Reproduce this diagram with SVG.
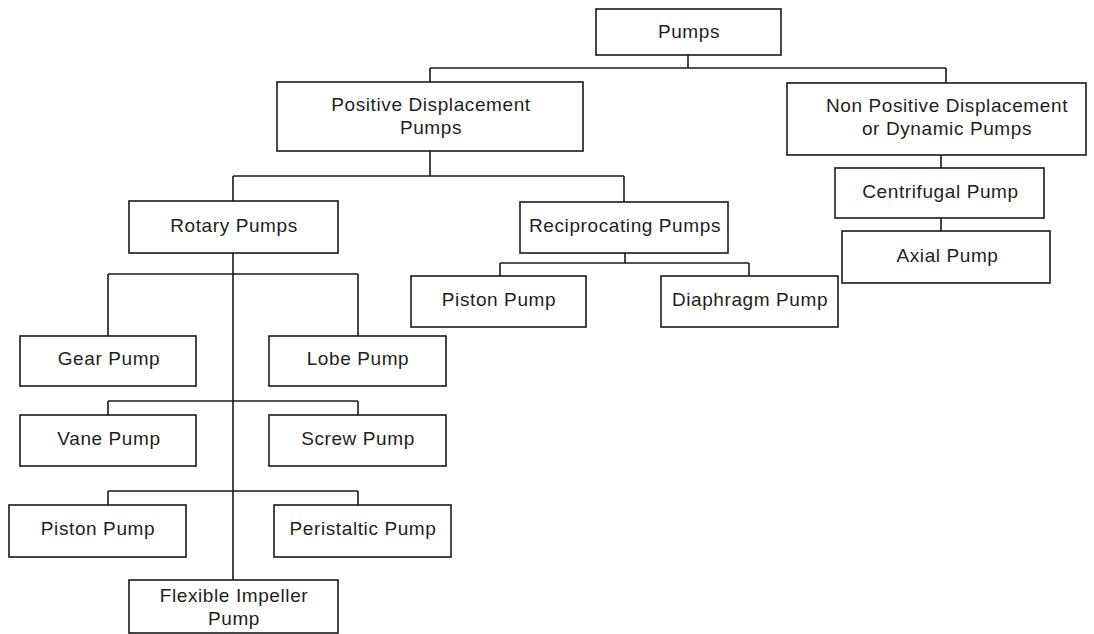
<svg xmlns="http://www.w3.org/2000/svg" width="1094" height="634" viewBox="0 0 1094 634">
<style>
.box{fill:#fff;stroke:#1a1a1a;stroke-width:1.6}
.lbl{font-family:"Liberation Sans",Arial,sans-serif;font-size:19px;letter-spacing:0.6px;fill:#1e1e1e;text-anchor:middle}
.con{fill:none;stroke:#1a1a1a;stroke-width:1.6}
</style>
<rect width="1094" height="634" fill="#fff"/>
<g id="connectors" class="con">
<path d="M688,55V68M430,68H946M430,68V82M946,68V83"/>
<path d="M430,151V176M233,176H624M233,176V201M624,176V202"/>
<path d="M625,253V263M500,263H749M500,263V276M749,263V276"/>
<path d="M941,155V168M941,218V231"/>
<path d="M233,253V580"/>
<path d="M108,274H358M108,274V336M358,274V336"/>
<path d="M108,401H358M108,401V415M358,401V415"/>
<path d="M108,491H358M108,491V505M358,491V505"/>
</g>
<g id="pumps"><rect class="box" x="596" y="9" width="185" height="46"/><text class="lbl" x="689" y="37.5">Pumps</text></g>
<g id="positive"><rect class="box" x="277" y="82" width="306" height="69"/><text class="lbl" x="431" y="111">Positive Displacement</text><text class="lbl" x="431" y="133.5">Pumps</text></g>
<g id="nonpositive"><rect class="box" x="787" y="83" width="299" height="72"/><text class="lbl" x="947" y="112">Non Positive Displacement</text><text class="lbl" x="947" y="134.5">or Dynamic Pumps</text></g>
<g id="rotary"><rect class="box" x="129" y="201" width="209" height="52"/><text class="lbl" x="234" y="232">Rotary Pumps</text></g>
<g id="reciprocating"><rect class="box" x="520" y="202" width="208" height="51"/><text class="lbl" x="625" y="232">Reciprocating Pumps</text></g>
<g id="centrifugal"><rect class="box" x="835" y="168" width="209" height="50"/><text class="lbl" x="940.5" y="198">Centrifugal Pump</text></g>
<g id="axial"><rect class="box" x="842" y="231" width="208" height="52"/><text class="lbl" x="947.5" y="262">Axial Pump</text></g>
<g id="piston-recip"><rect class="box" x="411" y="276" width="175" height="51"/><text class="lbl" x="499" y="306">Piston Pump</text></g>
<g id="diaphragm"><rect class="box" x="661" y="276" width="177" height="51"/><text class="lbl" x="750" y="306">Diaphragm Pump</text></g>
<g id="gear"><rect class="box" x="20" y="336" width="176" height="50"/><text class="lbl" x="109" y="365">Gear Pump</text></g>
<g id="lobe"><rect class="box" x="269" y="336" width="177" height="50"/><text class="lbl" x="358" y="365">Lobe Pump</text></g>
<g id="vane"><rect class="box" x="20" y="415" width="176" height="51"/><text class="lbl" x="109" y="445">Vane Pump</text></g>
<g id="screw"><rect class="box" x="269" y="415" width="177" height="51"/><text class="lbl" x="358" y="445">Screw Pump</text></g>
<g id="piston-rotary"><rect class="box" x="9" y="505" width="177" height="52"/><text class="lbl" x="98" y="535">Piston Pump</text></g>
<g id="peristaltic"><rect class="box" x="274" y="505" width="177" height="52"/><text class="lbl" x="363" y="535">Peristaltic Pump</text></g>
<g id="flexible"><rect class="box" x="129" y="580" width="209" height="53"/><text class="lbl" x="234" y="602">Flexible Impeller</text><text class="lbl" x="234" y="625">Pump</text></g>
</svg>
